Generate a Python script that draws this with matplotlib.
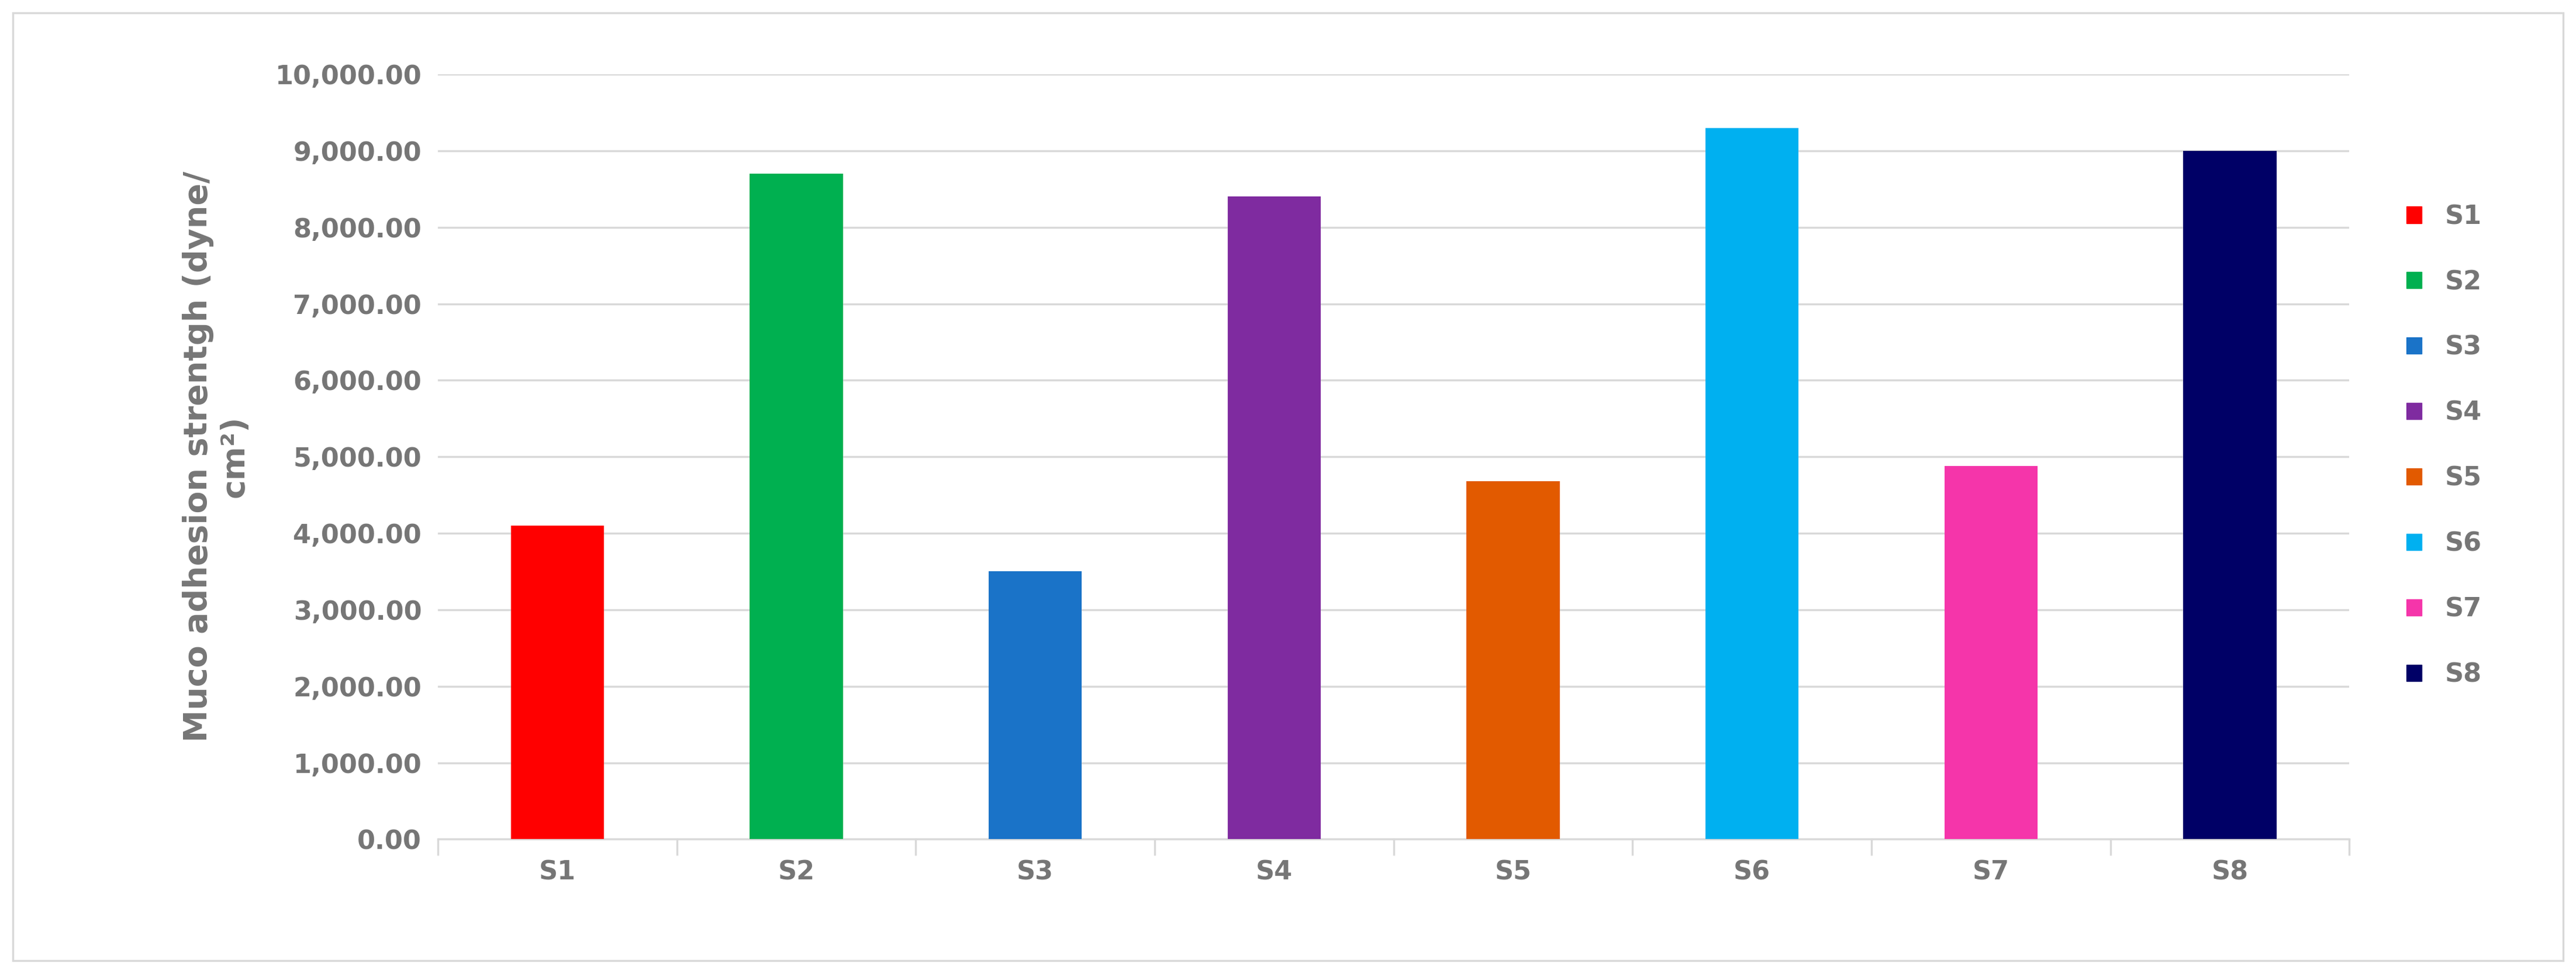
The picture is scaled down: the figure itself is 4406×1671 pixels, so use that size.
import matplotlib
matplotlib.use("Agg")
import matplotlib.pyplot as plt
from matplotlib.patches import Rectangle, Patch

categories = ["S1","S2","S3","S4","S5","S6","S7","S8"]
values = [4100, 8700, 3500, 8400, 4680, 9300, 4880, 9000]
colors = ["#ff0000","#00b050","#1a73c8","#7f2ba0","#e25a00","#00b0f0","#f535aa","#000066"]
gray = "#767676"

fig = plt.figure(figsize=(44.06,16.71), dpi=100)
ax = fig.add_axes([0.170,0.141,0.742,0.783])
x = range(len(categories))
ax.bar(x, values, width=0.39, color=colors, zorder=3)
ax.set_xlim(-0.5, 7.5)
ax.set_ylim(0, 10000)
ax.set_yticks(range(0, 10001, 1000))
ax.set_yticklabels([f"{v:,.2f}" for v in range(0,10001,1000)])
ax.set_xticks(list(x))
ax.set_xticklabels(categories)
ax.grid(axis="y", color="#d9d9d9", linewidth=2.5, zorder=0)
for s in ["top","right","left"]:
    ax.spines[s].set_visible(False)
ax.spines["bottom"].set_color("#d9d9d9"); ax.spines["bottom"].set_linewidth(2.5)
ax.tick_params(axis="y", length=0, labelsize=32, labelcolor=gray, pad=20)
ax.tick_params(axis="x", length=0, labelsize=32, labelcolor=gray, pad=25)
# minor ticks between categories
ax.set_xticks([i-0.5 for i in range(9)], minor=True)
ax.tick_params(axis="x", which="minor", length=20, color="#d9d9d9", width=2.5)
for lab in ax.get_xticklabels()+ax.get_yticklabels():
    lab.set_fontweight("bold")
ax.set_ylabel("Muco adhesion strentgh (dyne/\ncm²)", fontsize=40, color=gray, fontweight="bold", labelpad=30)

handles = [Patch(color=c, label=l) for c,l in zip(colors, categories)]
leg = fig.legend(handles=handles, loc="upper left", bbox_to_anchor=(0.925,0.815), frameon=False,
                 fontsize=32, labelspacing=1.55, handlelength=0.6, handleheight=0.6, handletextpad=0.9)
for t in leg.get_texts():
    t.set_color(gray); t.set_fontweight("bold")

fig.patches.append(Rectangle((0.005,0.017),0.99,0.97, transform=fig.transFigure, fill=False,
                             edgecolor="#d9d9d9", linewidth=2.5))
fig.savefig("out.png", dpi=100)
